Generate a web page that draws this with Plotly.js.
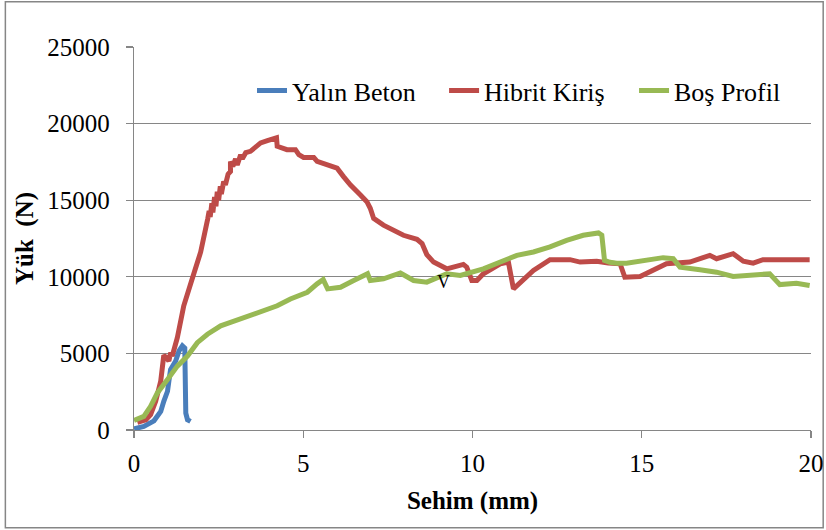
<!DOCTYPE html>
<html>
<head>
<meta charset="utf-8">
<script src="https://cdn.plot.ly/plotly-3.0.1.min.js"></script>
<style>html,body{margin:0;padding:0;background:#fff}#chart{width:826px;height:530px}</style>
</head>
<body>
<div id="chart"></div>
<script>
// Yalın Beton
const xBlue = [0, 0.29, 0.59, 0.79, 0.88, 0.99, 1.03, 1.08, 1.23, 1.33, 1.43, 1.50, 1.53, 1.58, 1.67];
const yBlue = [80, 230, 600, 1215, 1870, 2530, 3190, 3950, 4500, 5160, 5490, 5350, 1100, 670, 560];

// Hibrit Kiriş
const xRed = [0.1, 0.35, 0.49, 0.64, 0.79, 0.84, 0.88, 0.96, 1.03, 1.08, 1.13, 1.28, 1.47, 1.72, 1.97, 2.18,
  2.22, 2.25, 2.30, 2.33, 2.38, 2.42, 2.46, 2.50, 2.55, 2.58, 2.65, 2.70, 2.78, 2.85, 2.85, 2.92, 3.00, 3.05,
  3.15, 3.20, 3.30, 3.44, 3.74, 3.94, 4.21, 4.23, 4.52, 4.77, 4.87, 5.01, 5.31, 5.41, 5.80, 6.00, 6.19, 6.39,
  6.69, 6.88, 6.98, 7.08, 7.37, 7.67, 7.96, 8.36, 8.51, 8.65, 8.85, 9.24, 9.73, 9.83, 9.98, 10.13, 10.32,
  10.82, 11.06, 11.21, 11.41, 11.80, 12.29, 12.88, 13.18, 13.67, 14.01, 14.36, 14.50, 14.95, 15.73, 16.42,
  17.01, 17.21, 17.70, 18.00, 18.29, 18.58, 19.96];
const yRed = [500, 670, 1000, 1870, 3190, 4720, 4870, 4720, 4500, 5050, 4830, 6030, 8110, 9870, 11620, 13810,
  14300, 13900, 14800, 14200, 15200, 14600, 15560, 15000, 15900, 15400, 16220, 16000, 16700, 16870, 17530, 17200, 17700, 17300,
  17970, 17700, 18100, 18190, 18740, 18890, 19070, 18520, 18300, 18300, 17970, 17790, 17790, 17530, 17200, 17090, 16540, 16000,
  15340, 14900, 14470, 13810, 13370, 13040, 12710, 12450, 12170, 11450, 10960, 10520, 10810, 10630, 9760, 9760, 10200,
  10850, 10960, 9210, 9650, 10410, 11120, 11120, 10960, 11020, 10900, 10850, 9970, 10020, 10850, 10960,
  11400, 11180, 11510, 11020, 10890, 11120, 11120];

// Boş Profil
const xGreen = [0, 0.29, 0.49, 0.69, 0.99, 1.28, 1.58, 1.87, 2.17, 2.56, 2.85, 3.24, 3.83, 4.23, 4.62, 5.12,
  5.41, 5.59, 5.72, 6.10, 6.49, 6.90, 6.98, 7.37, 7.87, 8.26, 8.65, 9.24, 9.64, 10.32, 11.31, 11.80, 12.29,
  12.78, 13.27, 13.72, 13.82, 13.90, 14.06, 14.26, 14.55, 15.04, 15.63, 15.93, 16.13, 16.72, 17.21, 17.70,
  18.09, 18.78, 19.08, 19.57, 19.96];
const yGreen = [624, 887, 1544, 2420, 3300, 4170, 4830, 5700, 6250, 6800, 7020, 7350, 7790, 8110, 8550, 8990,
  9540, 9820, 9210, 9320, 9760, 10200, 9760, 9870, 10250, 9760, 9650, 10200, 10090, 10520, 11400, 11620, 11950,
  12380, 12710, 12860, 12710, 11070, 10950, 10890, 10890, 11070, 11250, 11180, 10630, 10460, 10300, 10020,
  10090, 10200, 9490, 9580, 9430];

const seriesNames = ['Yalın Beton', 'Hibrit Kiriş', 'Boş Profil'];
const colors = ['#4A7EBB', '#BE4B48', '#98B954'];
const xTickVals = [0, 5, 10, 15, 20];
const yTickVals = [0, 5000, 10000, 15000, 20000, 25000];

const FONT = 'Liberation Serif';
const legendIds = ['legend', 'legend2', 'legend3'];
const mk = (x, y, i) => ({x, y, name: seriesNames[i], type: 'scatter', mode: 'lines',
  legend: legendIds[i], line: {color: colors[i], width: 5}});

const data = [mk(xBlue, yBlue, 0), mk(xRed, yRed, 1), mk(xGreen, yGreen, 2)];

const legendBase = (x) => ({x: x, y: 0.886, xanchor: 'left', yanchor: 'middle',
  font: {family: FONT, size: 26, color: '#000'}, bgcolor: 'rgba(0,0,0,0)', borderwidth: 0});

const layout = {
  width: 826, height: 530,
  margin: {l: 134, r: 15, t: 47, b: 100},
  paper_bgcolor: '#fff', plot_bgcolor: '#fff',
  font: {family: FONT, color: '#000', size: 25},
  showlegend: true,
  legend: legendBase(0.1743),
  legend2: legendBase(0.458),
  legend3: legendBase(0.7386),
  xaxis: {range: [0, 20], tickvals: xTickVals, ticktext: xTickVals.map(String),
    showgrid: false, zeroline: false, showline: true, linecolor: '#868686', linewidth: 1.3,
    ticks: 'outside', ticklen: 7, tickcolor: '#868686', tickwidth: 1.3, ticklabelstandoff: 4,
    tickfont: {family: FONT, size: 25},
    title: {text: '<b>Sehim (mm)</b>', font: {family: FONT, size: 25}, standoff: 15}},
  yaxis: {range: [0, 25000], tickvals: yTickVals, ticktext: yTickVals.map(String),
    showgrid: true, gridcolor: '#868686', gridwidth: 1.3, zeroline: false,
    showline: true, linecolor: '#868686', linewidth: 1.3,
    ticks: 'outside', ticklen: 7, tickcolor: '#868686', tickwidth: 1.3, ticklabelstandoff: 11,
    tickfont: {family: FONT, size: 25},
    title: {text: '<b>Yük  (N)</b>', font: {family: FONT, size: 25}, standoff: 6}},
  annotations: [{x: 9.13, y: 9650, xref: 'x', yref: 'y', text: 'V', showarrow: false,
    font: {family: FONT, size: 18, color: '#000'}}],
  shapes: [{type: 'rect', xref: 'paper', yref: 'paper', x0: -0.19, x1: 1.018, y0: -0.255, y1: 1.118,
    line: {color: '#868686', width: 1.5}, fillcolor: 'rgba(0,0,0,0)', layer: 'below'}]
};

Plotly.newPlot('chart', data, layout, {staticPlot: true, displayModeBar: false});
</script>
</body>
</html>
